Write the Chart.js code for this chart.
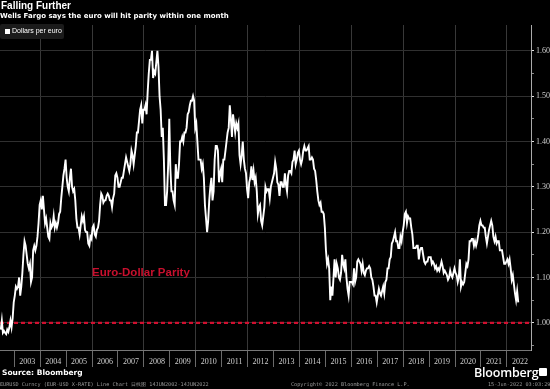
<!DOCTYPE html>
<html>
<head>
<meta charset="utf-8">
<script src="https://cdn.jsdelivr.net/npm/chart.js@4/dist/chart.umd.min.js"></script>
<style>
  html, body { margin: 0; padding: 0; background: #000; }
  #wrap { position: relative; width: 550px; height: 389px; background: #000; overflow: hidden; }
  #wrap canvas { position: absolute; left: 0; top: 0; }
  .txt { position: absolute; white-space: nowrap; color: #fff; }
  #title { left: 1px; top: 0px; font: bold 10px "Liberation Sans", sans-serif; }
  #subtitle { left: 0px; top: 12px; font: bold 7px "DejaVu Sans", sans-serif; }
  #legend { left: 0; top: 24px; width: 64px; height: 15px; background: #1b1b1b; border-radius: 2px; }
  #legend i { position: absolute; left: 5px; top: 5px; width: 5px; height: 5px; background: #fff; }
  #legend span { position: absolute; left: 12px; top: 3px; font: 7px "Liberation Sans", sans-serif; color: #fff; }
  #source { left: 2px; top: 368px; font: bold 7.5px "DejaVu Sans", sans-serif; }
  .foot { top: 381px; font: 5.2px "DejaVu Sans Mono", monospace; color: #999; }
  #logo { left: 474px; top: 364px; font: 600 12.5px "Open Sans", sans-serif; letter-spacing: -0.2px; }
  #logoIcon { left: 539px; top: 368px; width: 8px; height: 8px; background: #fff; border-radius: 1px; }
</style>
</head>
<body>
<div id="wrap">
  <canvas id="chart" width="550" height="389"></canvas>
  <div class="txt" id="title">Falling Further</div>
  <div class="txt" id="subtitle">Wells Fargo says the euro will hit parity within one month</div>
  <div class="txt" id="legend"><i></i><span>Dollars per euro</span></div>
  <div class="txt" id="source">Source: Bloomberg</div>
  <div class="txt foot" style="left:0px">EURUSD Curncy (EUR-USD X-RATE) Line Chart 日线图 14JUN2002-14JUN2022</div>
  <div class="txt foot" style="left:291px">Copyright© 2022 Bloomberg Finance L.P.</div>
  <div class="txt foot" style="left:488px">15-Jun-2022 03:03:29</div>
  <div class="txt" id="logo">Bloomberg</div>
  <div class="txt" id="logoIcon"></div>
</div>
<script>
// EUR/USD, two readings per month (first half / second half)
const rate2002 = [0.985, 1.005, 0.978, 0.982, 0.978, 0.975, 0.985, 0.98, 0.99, 1.005, 0.99, 1.01, 1.045]; // from 2nd half of June
const rate2003 = [1.06, 1.08, 1.075, 1.08, 1.10, 1.06, 1.08, 1.11, 1.15, 1.18, 1.17, 1.15, 1.13, 1.12, 1.13, 1.09, 1.10, 1.16, 1.17, 1.16, 1.17, 1.19, 1.22, 1.26];
const rate2004 = [1.27, 1.25, 1.28, 1.25, 1.22, 1.23, 1.21, 1.19, 1.185, 1.22, 1.21, 1.215, 1.235, 1.21, 1.22, 1.21, 1.22, 1.24, 1.245, 1.275, 1.30, 1.325, 1.34, 1.36];
const rate2005 = [1.32, 1.30, 1.29, 1.32, 1.34, 1.30, 1.29, 1.295, 1.27, 1.23, 1.21, 1.21, 1.195, 1.215, 1.235, 1.225, 1.235, 1.205, 1.20, 1.20, 1.175, 1.17, 1.19, 1.185];
const rate2006 = [1.21, 1.215, 1.195, 1.19, 1.205, 1.21, 1.225, 1.26, 1.285, 1.28, 1.265, 1.27, 1.27, 1.28, 1.285, 1.28, 1.27, 1.27, 1.255, 1.275, 1.285, 1.325, 1.33, 1.32];
const rate2007 = [1.30, 1.30, 1.31, 1.32, 1.32, 1.335, 1.35, 1.365, 1.355, 1.345, 1.335, 1.35, 1.38, 1.37, 1.35, 1.37, 1.39, 1.42, 1.42, 1.445, 1.47, 1.48, 1.44, 1.47];
const rate2008 = [1.47, 1.48, 1.46, 1.51, 1.55, 1.58, 1.58, 1.60, 1.54, 1.555, 1.55, 1.575, 1.60, 1.565, 1.50, 1.47, 1.41, 1.43, 1.36, 1.26, 1.26, 1.29, 1.35, 1.45];
const rate2009 = [1.34, 1.29, 1.29, 1.27, 1.26, 1.35, 1.32, 1.32, 1.35, 1.40, 1.40, 1.41, 1.40, 1.42, 1.42, 1.43, 1.46, 1.465, 1.48, 1.49, 1.49, 1.50, 1.49, 1.43];
const rate2010 = [1.44, 1.40, 1.36, 1.36, 1.36, 1.34, 1.35, 1.32, 1.26, 1.23, 1.20, 1.225, 1.27, 1.30, 1.32, 1.27, 1.29, 1.36, 1.39, 1.39, 1.38, 1.31, 1.33, 1.34];
const rate2011 = [1.31, 1.36, 1.36, 1.38, 1.40, 1.42, 1.43, 1.48, 1.45, 1.41, 1.46, 1.44, 1.42, 1.44, 1.43, 1.44, 1.37, 1.35, 1.37, 1.40, 1.36, 1.34, 1.33, 1.295];
const rate2012 = [1.275, 1.31, 1.32, 1.345, 1.315, 1.335, 1.31, 1.32, 1.29, 1.24, 1.255, 1.26, 1.225, 1.215, 1.235, 1.255, 1.30, 1.29, 1.295, 1.295, 1.275, 1.30, 1.31, 1.32];
const rate2013 = [1.33, 1.355, 1.34, 1.31, 1.305, 1.28, 1.31, 1.31, 1.30, 1.30, 1.33, 1.305, 1.29, 1.325, 1.335, 1.335, 1.33, 1.355, 1.36, 1.38, 1.35, 1.36, 1.375, 1.38];
const rate2014 = [1.36, 1.35, 1.36, 1.38, 1.39, 1.38, 1.38, 1.385, 1.39, 1.36, 1.36, 1.365, 1.36, 1.34, 1.335, 1.315, 1.29, 1.27, 1.26, 1.265, 1.245, 1.245, 1.24, 1.21];
const rate2015 = [1.16, 1.13, 1.14, 1.12, 1.05, 1.08, 1.06, 1.10, 1.14, 1.10, 1.13, 1.12, 1.10, 1.095, 1.11, 1.15, 1.13, 1.12, 1.14, 1.10, 1.075, 1.06, 1.09, 1.09];
const rate2016 = [1.09, 1.085, 1.12, 1.09, 1.10, 1.135, 1.14, 1.135, 1.13, 1.115, 1.13, 1.11, 1.105, 1.115, 1.12, 1.12, 1.125, 1.12, 1.10, 1.095, 1.08, 1.06, 1.06, 1.045];
const rate2017 = [1.06, 1.075, 1.065, 1.06, 1.07, 1.08, 1.065, 1.09, 1.095, 1.12, 1.12, 1.14, 1.145, 1.175, 1.18, 1.19, 1.20, 1.18, 1.18, 1.165, 1.165, 1.19, 1.18, 1.20];
const rate2018 = [1.215, 1.24, 1.245, 1.22, 1.235, 1.23, 1.23, 1.21, 1.195, 1.165, 1.165, 1.165, 1.17, 1.17, 1.14, 1.16, 1.165, 1.165, 1.15, 1.135, 1.13, 1.135, 1.135, 1.145];
const rate2019 = [1.145, 1.145, 1.13, 1.135, 1.13, 1.12, 1.125, 1.115, 1.12, 1.115, 1.125, 1.135, 1.125, 1.11, 1.115, 1.11, 1.105, 1.095, 1.10, 1.115, 1.105, 1.10, 1.11, 1.12];
const rate2020 = [1.11, 1.105, 1.09, 1.10, 1.14, 1.08, 1.09, 1.085, 1.09, 1.11, 1.13, 1.125, 1.14, 1.18, 1.18, 1.185, 1.185, 1.17, 1.18, 1.17, 1.18, 1.195, 1.215, 1.225];
const rate2021 = [1.215, 1.215, 1.21, 1.21, 1.19, 1.175, 1.19, 1.205, 1.215, 1.225, 1.215, 1.19, 1.18, 1.19, 1.175, 1.18, 1.18, 1.16, 1.16, 1.16, 1.145, 1.13, 1.13, 1.135];
const rate2022 = [1.14, 1.13, 1.14, 1.12, 1.095, 1.105, 1.085, 1.065, 1.05, 1.07, 1.045]; // to mid June

const seriesYears = [2002, 2003, 2004, 2005, 2006, 2007, 2008, 2009, 2010, 2011, 2012,
  2013, 2014, 2015, 2016, 2017, 2018, 2019, 2020, 2021, 2022];
const seriesRates = [rate2002, rate2003, rate2004, rate2005, rate2006, rate2007, rate2008,
  rate2009, rate2010, rate2011, rate2012, rate2013, rate2014, rate2015, rate2016, rate2017,
  rate2018, rate2019, rate2020, rate2021, rate2022];
const firstHalfMonth = 11; // series starts in the second half of June 2002

const yearTicks = [2003, 2004, 2005, 2006, 2007, 2008, 2009, 2010, 2011, 2012,
  2013, 2014, 2015, 2016, 2017, 2018, 2019, 2020, 2021, 2022];
const yTickValues = [0.95, 1.00, 1.05, 1.10, 1.15, 1.20, 1.25, 1.30, 1.35, 1.40, 1.45, 1.50, 1.55, 1.60];
const parity = 1.0;
const parityLabel = "Euro-Dollar Parity";
const xMin = 2002.45, xMax = 2022.93;
const yMin = 0.94, yMax = 1.657;

const points = [];
seriesYears.forEach((yr, i) => {
  const offset = i === 0 ? firstHalfMonth : 0;
  seriesRates[i].forEach((v, k) => {
    points.push({ x: yr + (offset + k + 0.5) / 24, y: v });
  });
});

const isMajor = v => Math.abs(v * 10 - Math.round(v * 10)) < 1e-6;
const evenYear = c => c.tick && Math.round(c.tick.value) % 2 === 0;
const tickFont = { family: "Liberation Serif", size: 8 };

const parityText = {
  id: "parityText",
  afterDatasetsDraw(chart) {
    const { ctx, scales } = chart;
    ctx.save();
    ctx.fillStyle = "#c8102e";
    ctx.font = "bold 11.5px 'Liberation Sans'";
    ctx.textBaseline = "middle";
    ctx.fillText(parityLabel, scales.x.getPixelForValue(2006.0), scales.y.getPixelForValue(1.111));
    ctx.restore();
  },
};

new Chart(document.getElementById("chart"), {
  type: "line",
  data: {
    datasets: [
      {
        label: "Dollars per euro",
        data: points,
        borderColor: "#ffffff",
        borderWidth: 1.9,
        pointRadius: 0,
        tension: 0,
      },
      {
        label: "parity",
        data: [{ x: xMin, y: parity }, { x: xMax, y: parity }],
        borderColor: "#d01030",
        borderWidth: 2.2,
        borderDash: [4, 3],
        pointRadius: 0,
      },
    ],
  },
  options: {
    responsive: false,
    animation: false,
    events: [],
    layout: { padding: { left: 0, right: 0, top: 25, bottom: 0 } },
    plugins: { legend: { display: false }, tooltip: { enabled: false } },
    scales: {
      x: {
        type: "linear",
        min: xMin,
        max: xMax,
        afterBuildTicks: s => { s.ticks = yearTicks.map(v => ({ value: v })); },
        afterFit: s => { s.height = 39; },
        ticks: {
          color: "#cfcfcf",
          font: tickFont,
          labelOffset: 13,
          padding: -10,
          maxRotation: 0,
          autoSkip: false,
          callback: v => String(v),
        },
        grid: {
          drawOnChartArea: true,
          color: c => (evenYear(c) ? "#383838" : "rgba(0,0,0,0)"),
          lineWidth: 1,
          tickColor: "#6a6a6a",
          tickLength: 17,
        },
        border: { color: "#777" },
      },
      y: {
        position: "right",
        min: yMin,
        max: yMax,
        afterBuildTicks: s => { s.ticks = yTickValues.map(v => ({ value: v })); },
        afterFit: s => { s.width = 19; },
        ticks: {
          color: "#cfcfcf",
          font: tickFont,
          padding: 2,
          callback: v => (isMajor(v) ? v.toFixed(2) : ""),
        },
        grid: {
          color: c => (c.tick && isMajor(c.tick.value) ? "#303030" : "rgba(0,0,0,0)"),
          tickColor: c => (c.tick && isMajor(c.tick.value) ? "#e0e0e0" : "#888"),
          tickLength: 3,
        },
        border: { color: "#aaaaaa" },
      },
    },
  },
  plugins: [parityText],
});
</script>
</body>
</html>
